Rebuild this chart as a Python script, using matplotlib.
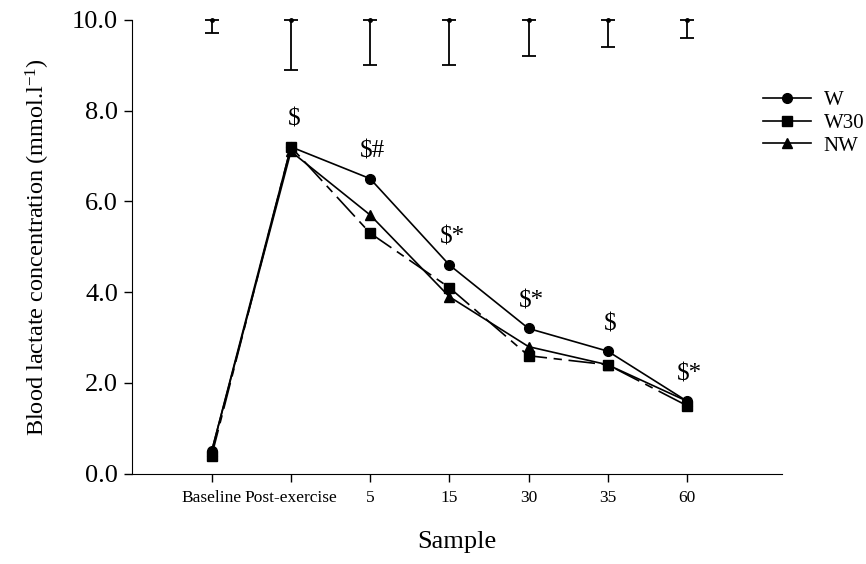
import matplotlib
matplotlib.use("Agg")
import matplotlib.pyplot as plt
import numpy as np

samples = ["Baseline", "Post-exercise", "5", "15", "30", "35", "60"]
w_vals = [0.5, 7.2, 6.5, 4.6, 3.2, 2.7, 1.6]
w30_vals = [0.4, 7.2, 5.3, 4.1, 2.6, 2.4, 1.5]
nw_vals = [0.5, 7.1, 5.7, 3.9, 2.8, 2.4, 1.6]
sd_low = [9.7, 8.9, 9.0, 9.0, 9.2, 9.4, 9.6]
sig_labels = ["", "$", "$#", "$*", "$*", "$", "$*"]

plt.rcParams["font.family"] = ["Liberation Serif", "DejaVu Serif"]
plt.rcParams["mathtext.fontset"] = "custom"
plt.rcParams["mathtext.rm"] = "Liberation Serif"
plt.rcParams["mathtext.it"] = "Liberation Serif:italic"

fig = plt.figure(figsize=(8.66, 5.64), dpi=100)
ax = fig.add_axes([0.153, 0.16, 0.75, 0.805])

x = np.arange(len(samples))
ax.plot(x, w_vals, "-", color="black", lw=1.2, marker="o", ms=7, label="W")
ax.plot(x, w30_vals, color="black", lw=1.2, marker="s", ms=7,
        dashes=[16, 4, 5, 4], label="W30")
ax.plot(x, nw_vals, "-", color="black", lw=1.2, marker="^", ms=7, label="NW")

# one-sided spread bars hanging from the top of the axis
top = np.full(len(x), 10.0)
ax.errorbar(x, top, yerr=[top - np.array(sd_low), np.zeros(len(x))],
            fmt="none", ecolor="black", elinewidth=1.3, capsize=4.7,
            capthick=1.3, clip_on=False)
ax.plot(x, top, "o", color="black", ms=2.5, clip_on=False)

for xi, s in zip(x, sig_labels):
    if s:
        ymax = max(w_vals[xi], w30_vals[xi], nw_vals[xi])
        ax.annotate(s, (xi, ymax), xytext=(2, 19.5), textcoords="offset points",
                    ha="center", va="center", fontsize=18)

ax.set_xlim(-1, 7.2)
ax.set_ylim(0, 10)
yt = np.arange(0, 10.1, 2)
ax.set_yticks(yt)
ax.set_yticklabels([f"{v:.1f}" for v in yt], fontsize=19)
ax.set_xticks(x)
ax.set_xticklabels(samples, fontsize=12.5)
ax.tick_params(direction="out", length=5.5, width=1)
ax.tick_params(axis="x", pad=6)
ax.tick_params(axis="y", pad=5)
ax.spines["top"].set_visible(False)
ax.spines["right"].set_visible(False)
ax.set_xlabel("Sample", fontsize=19, labelpad=18)
ax.set_ylabel("Blood lactate concentration (mmol.l$^{-1}$)", fontsize=17.5,
              labelpad=14)

leg = ax.legend(loc="upper left", bbox_to_anchor=(0.942, 0.885), frameon=False,
                fontsize=15, handlelength=2.3, handletextpad=0.6,
                labelspacing=0.15)
for line in leg.get_lines():
    line.set_linestyle("-")

fig.savefig("out.png", dpi=100)
